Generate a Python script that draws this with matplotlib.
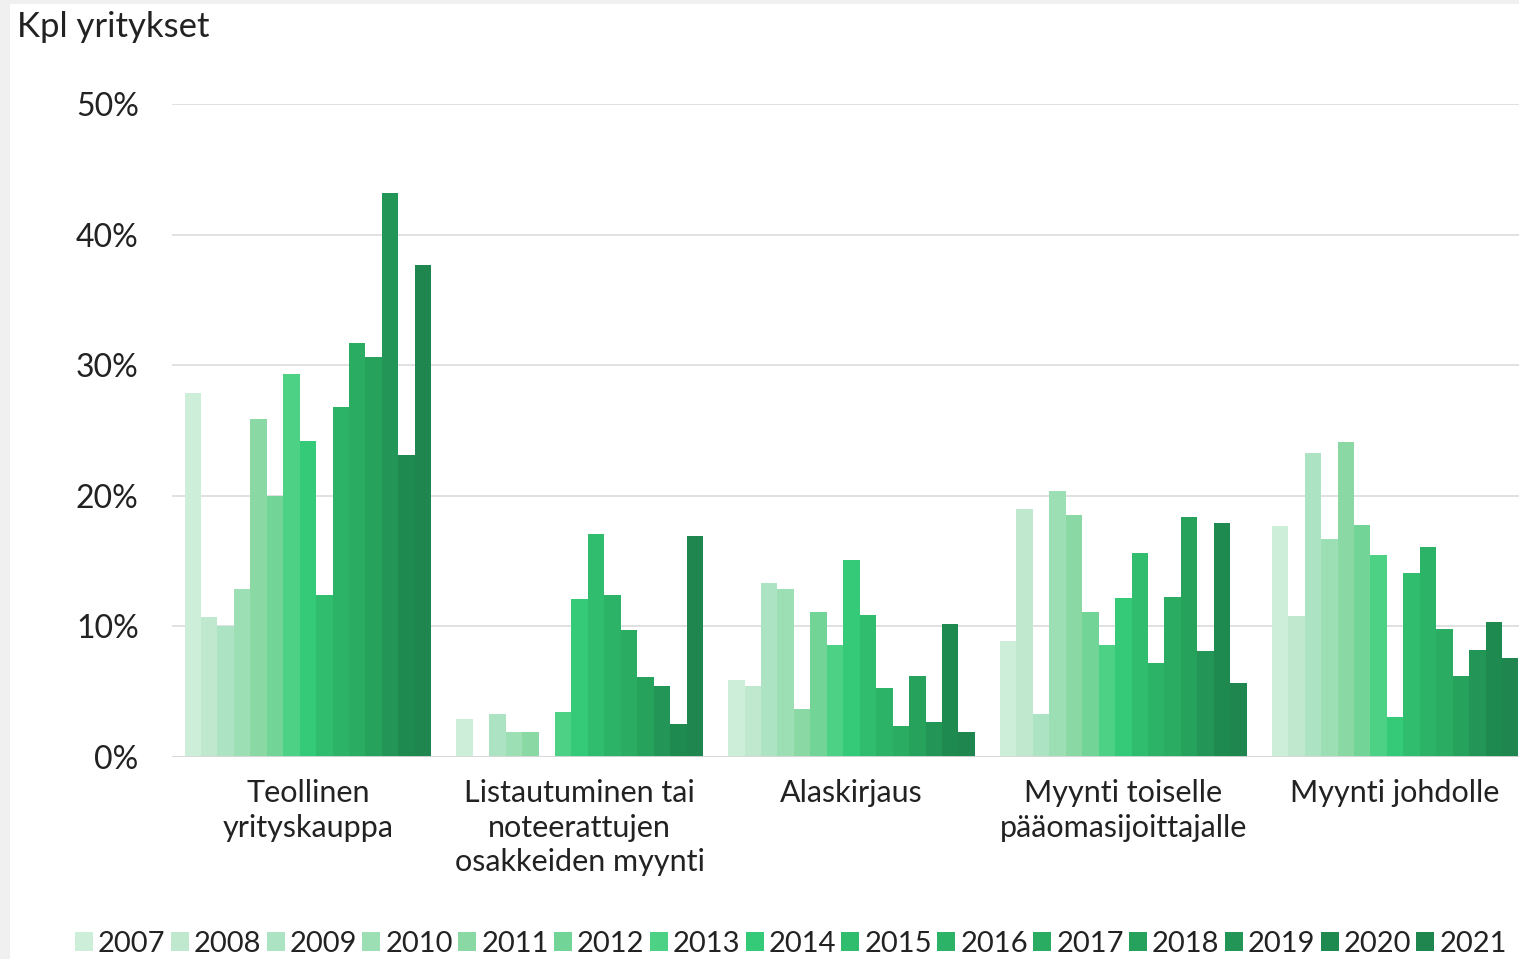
import numpy as np
import matplotlib.pyplot as plt
from matplotlib.patches import Patch, Rectangle

# exit routes, share of companies per year
categories = ['Teollinen\nyrityskauppa',
              'Listautuminen tai\nnoteerattujen\nosakkeiden myynti',
              'Alaskirjaus',
              'Myynti toiselle\npääomasijoittajalle',
              'Myynti johdolle']
years = ['2007', '2008', '2009', '2010', '2011', '2012', '2013', '2014',
         '2015', '2016', '2017', '2018', '2019', '2020', '2021']

# one list per category, values in percent by year 2007..2021
teollinen = [27.9, 10.7, 10.0, 12.9, 25.9, 20.0, 29.3, 24.2, 12.4, 26.8, 31.7, 30.6, 43.2, 23.1, 37.7]
listautuminen = [2.9, 0.0, 3.3, 1.9, 1.9, 0.0, 3.45, 12.1, 17.1, 12.4, 9.7, 6.1, 5.4, 2.5, 16.9]
alaskirjaus = [5.9, 5.4, 13.3, 12.9, 3.7, 11.1, 8.55, 15.1, 10.9, 5.3, 2.4, 6.2, 2.7, 10.2, 1.9]
myynti_pe = [8.85, 19.0, 3.3, 20.4, 18.5, 11.1, 8.6, 12.2, 15.65, 7.2, 12.25, 18.4, 8.1, 17.95, 5.7]
myynti_johto = [17.7, 10.8, 23.3, 16.7, 24.1, 17.8, 15.5, 3.1, 14.1, 16.1, 9.8, 6.2, 8.2, 10.3, 7.6]

colors = ['#cdeed9', '#bfe8ce', '#ace3c2', '#9ddfb5', '#8ad9a5', '#72d597', '#4dd185',
          '#35ca78', '#30bd6e', '#2db368', '#2aac63', '#26a25d', '#239557', '#1f8a50', '#1e864e']

values = np.array([teollinen, listautuminen, alaskirjaus, myynti_pe, myynti_johto])

plt.rcParams['font.family'] = ['Lato', 'DejaVu Sans']
text_color = '#222222'

fig = plt.figure(figsize=(15.19, 9.59), dpi=100)
fig.patch.set_facecolor('#f0f0f0')
# white card, leaving the thin grey frame on the left and top
fig.patches.append(Rectangle((10 / 1519, 0), 1, 1 - 4 / 959, transform=fig.transFigure,
                             facecolor='white', edgecolor='none', zorder=-1))

# the plot runs a bit past the right edge of the picture, as in the source
ax = fig.add_axes([172 / 1519, 1 - 757 / 959, (1531 - 172) / 1519, (757 - 104) / 959])
ax.set_facecolor('none')
ax.set_zorder(2)

x = np.arange(len(categories))
group_width = 0.908
bar_w = group_width / len(years)

for i, year in enumerate(years):
    offs = -group_width / 2 + bar_w * (i + 0.5)
    ax.bar(x + offs, values[:, i], bar_w, color=colors[i], linewidth=0, zorder=3)

ax.set_xlim(-0.5, len(categories) - 0.5)
ax.set_ylim(0, 50)
ax.set_yticks(np.arange(0, 51, 10))
ax.set_yticklabels([f'{v}%' for v in range(0, 51, 10)])
ax.set_xticks(x)
ax.set_xticklabels(categories, linespacing=1.28)

# only horizontal grid, no frame
ax.yaxis.grid(True, color='#dcdcdc', linewidth=1.2, zorder=0)
for s in ax.spines.values():
    s.set_visible(False)
ax.axhline(0, color='#d8d8d8', linewidth=2, zorder=4)
ax.tick_params(axis='both', length=0, labelsize=22, colors=text_color)
ax.tick_params(axis='y', labelsize=23, pad=24)
ax.tick_params(axis='x', pad=16)

fig.text(17 / 1519, 1 - 27 / 959, 'Kpl yritykset', fontsize=25, color=text_color,
         ha='left', va='center')

handles = [Patch(facecolor=c, edgecolor='none', label=y) for c, y in zip(colors, years)]
leg = fig.legend(handles=handles, loc='center left', ncol=len(years),
                 bbox_to_anchor=(75 / 1519, 1 - 944 / 959), frameon=False,
                 fontsize=21, handlelength=0.62, handleheight=0.62,
                 handletextpad=0.17, columnspacing=0.18, borderaxespad=0, borderpad=0)
for t in leg.get_texts():
    t.set_color(text_color)

fig.savefig('out.png', dpi=100, facecolor=fig.get_facecolor())
